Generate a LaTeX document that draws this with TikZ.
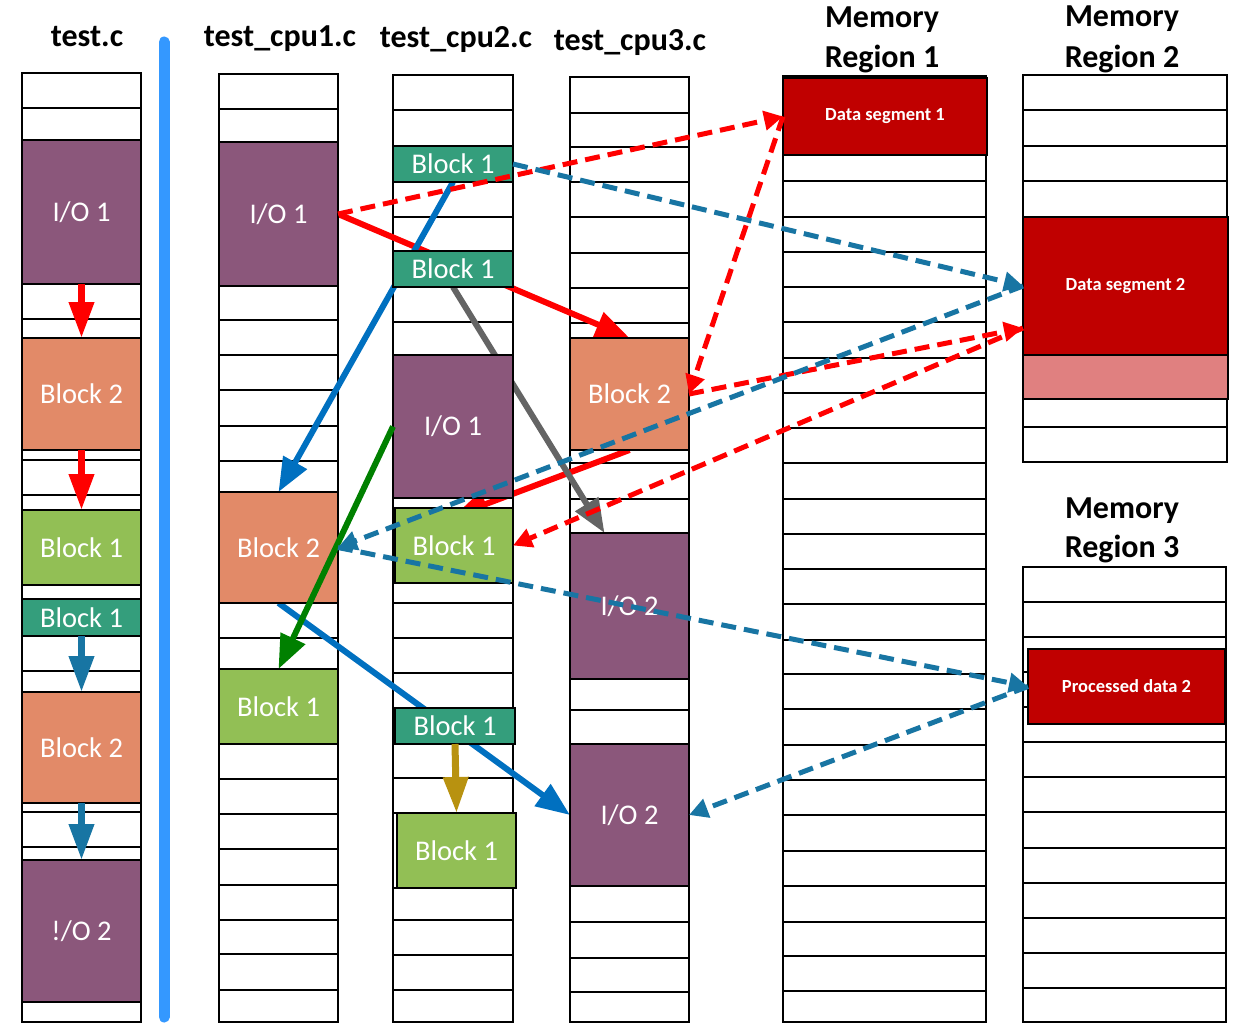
\documentclass[tikz,border=0pt]{standalone}
\usepackage{fontspec}
\setmainfont{Carlito}
\usetikzlibrary{arrows.meta,calc}
\definecolor{iopurple}{RGB}{139,87,123}
\definecolor{blkorange}{RGB}{226,138,104}
\definecolor{blkgreen}{RGB}{146,191,85}
\definecolor{blkteal}{RGB}{52,158,124}
\definecolor{segred}{RGB}{192,0,0}
\definecolor{segpink}{RGB}{224,128,128}
\definecolor{arrred}{RGB}{255,0,0}
\definecolor{arrblue}{RGB}{0,112,192}
\definecolor{dashblue}{RGB}{24,117,163}
\definecolor{arrgray}{RGB}{100,100,100}
\definecolor{arrgreen}{RGB}{0,128,0}
\definecolor{arrgold}{RGB}{184,146,16}
\definecolor{barblue}{RGB}{52,152,255}
\pgfdeclarelayer{cells}
\pgfdeclarelayer{behind}
\pgfsetlayers{cells,behind,main}
\newcommand{\seglbl}{\fontsize{18.5}{20}\selectfont\bfseries}
\tikzset{
  cell/.style={draw=black,line width=2.2pt},
  blk/.style={draw=black,line width=2pt,inner sep=0pt,outer sep=0pt,text=white,font=\fontsize{28.5}{31}\selectfont},
  ttl/.style={font=\fontsize{32}{34}\selectfont\bfseries,anchor=base,inner sep=0pt},
  solidarr/.style={line width=6pt,-{Triangle[length=34pt,width=26pt]}},
  vertarr/.style={line width=7pt,-{Triangle[length=36pt,width=24pt]}},
  dasharr/.style={line width=5pt,dash pattern=on 15pt off 8pt,-{Triangle[length=19pt,width=19pt]}}
}
\newcommand{\memcol}[5]{%
  \draw[cell,fill=white] (#1,#3) rectangle (#2,#4);
  \foreach \yy in {#5} {\draw[cell] (#1,\yy) -- (#2,\yy);}
}
\newcommand{\blk}[7]{%
  \node[blk,fill=#6,minimum width={(#4)-(#2)},minimum height={(#5)-(#3)}] (#1) at ({((#2)+(#4))/2},{((#3)+(#5))/2}) {#7};
}
\begin{document}
\begin{tikzpicture}[x=1pt,y=-1pt]
\useasboundingbox (0,0) rectangle (1235,1025);

% ---------- cells ----------
\begin{pgfonlayer}{cells}
\fill[white] (0,0) rectangle (1235,1025);
\memcol{22}{141}{73}{1022}{108,140,284,319,338,450,460,495,510,585,599,636,671,692,803,812,847,860,1002}
\memcol{219}{338}{74}{1022}{109,142,286,320,355,390,426,461,492,603,638,669,744,779,814,849,885,920,954,990}
\memcol{393}{513}{75}{1022}{110,146,182,217,251,287,322,355,498,508,583,603,638,673,708,744,778,813,888,920,955,990}
\memcol{570}{689}{77}{1022}{113,147,182,217,253,288,323,338,450,463,499,533,679,710,744,886,922,958,992}
\memcol{783}{986}{76}{1022}{155,181,217,252,287,322,358,393,428,463,499,534,569,604,640,674,709,745,780,815,851,886,922,956,991}
\memcol{1023}{1227}{75}{462}{110,146,181,217,355,399,427}
\memcol{1023}{1226}{567}{1022}{602,637,672,707,742,777,812,848,883,918,953,988}
\draw[barblue,line width=11pt,line cap=round] (164,42) -- (164,1017);
\end{pgfonlayer}

% ---------- titles ----------
\node[ttl] (tt0) at (87,47) {test.c};
\node[ttl] (tt1) at (280,47) {test\_cpu1.c};
\node[ttl] (tt2) at (456,48) {test\_cpu2.c};
\node[ttl] (tt3) at (630,51) {test\_cpu3.c};
\node[ttl] (tm1a) at (882,28) {Memory};
\node[ttl] (tm1b) at (882,68) {Region 1};
\node[ttl] (tm2a) at (1122,27) {Memory};
\node[ttl] (tm2b) at (1122,67) {Region 2};
\node[ttl] (tm3a) at (1122,518) {Memory};
\node[ttl] (tm3b) at (1122,557) {Region 3};

% ---------- blocks ----------
\blk{t_io1}{22}{140}{141}{284}{iopurple}{I/O 1}
\blk{t_b2}{22}{338}{141}{450}{blkorange}{Block 2}
\blk{t_b1}{22}{510}{141}{585}{blkgreen}{Block 1}
\blk{t_b1t}{22}{599}{141}{636}{blkteal}{Block 1}
\blk{t_b2b}{22}{692}{141}{803}{blkorange}{Block 2}
\blk{t_io2}{22}{860}{141}{1002}{iopurple}{!/O 2}

\blk{c1io1}{219}{142}{338}{286}{iopurple}{I/O 1}
\blk{c1b2}{219}{492}{338}{603}{blkorange}{Block 2}
\blk{c1b1}{219}{669}{338}{744}{blkgreen}{Block 1}

\blk{c2b1a}{393}{146}{513}{182}{blkteal}{Block 1}
\blk{c2b1b}{393}{251}{513}{287}{blkteal}{Block 1}
\blk{c2io1}{393}{355}{513}{498}{iopurple}{I/O 1}
\blk{c2b1c}{395}{508}{513}{583}{blkgreen}{Block 1}
\blk{c2b1d}{395}{708}{515}{744}{blkteal}{Block 1}
\blk{c2b1e}{397}{813}{516}{888}{blkgreen}{Block 1}

\blk{c3b2}{570}{338}{689}{450}{blkorange}{Block 2}
\blk{c3io2a}{570}{533}{689}{679}{iopurple}{I/O 2}
\blk{c3io2b}{570}{744}{689}{886}{iopurple}{I/O 2}

\blk{ds1}{783}{78}{987}{155}{segred}{\seglbl Data segment 1}
\blk{ds2}{1023}{217}{1228}{355}{segred}{\seglbl Data segment 2}
\blk{ds2b}{1023}{355}{1228}{399}{segpink}{}
\blk{pd2}{1028}{649}{1225}{724}{segred}{\seglbl Processed data 2}

% ---------- arrows hidden behind blocks ----------
\begin{pgfonlayer}{behind}
\draw[solidarr,arrred] (c1io1.east) -- (c3b2.north);
\draw[solidarr,arrred] (c3b2.south) -- ($(c2b1c.north)+(0,8)$);
\draw[solidarr,arrgray] (c2b1b.south) -- ($(c3io2a.north)+(-25,0)$);
\draw[solidarr,arrblue] (c2b1a.south) -- (c1b2.north);
\draw[solidarr,arrblue] (c1b2.south) -- (c3io2b.west);
\end{pgfonlayer}

% ---------- arrows on top ----------
\draw[vertarr,arrred] (t_io1.south) -- (t_b2.north);
\draw[vertarr,arrred] (t_b2.south) -- (t_b1.north);
\draw[vertarr,dashblue] (t_b1t.south) -- (t_b2b.north);
\draw[vertarr,dashblue] (t_b2b.south) -- (t_io2.north);

\draw[solidarr,arrgreen] (c2io1.west) -- (c1b1.north);
\draw[vertarr,arrgold] (c2b1d.south) -- (c2b1e.north);

\draw[dasharr,arrred] (c1io1.east) -- (ds1.west);
\draw[dasharr,arrred] (ds1.west) -- (c3b2.east);
\draw[dasharr,arrred] (c3b2.east) -- ($(ds2.west)+(0,42)$);
\draw[dasharr,arrred] ($(ds2.west)+(0,42)$) -- (c2b1c.east);

\draw[dasharr,dashblue] (c2b1a.east) -- (ds2.west);
\draw[dasharr,dashblue] (ds2.west) -- (c1b2.east);
\draw[dasharr,dashblue] (c1b2.east) -- (pd2.west);
\draw[dasharr,dashblue] (pd2.west) -- (c3io2b.east);
\end{tikzpicture}
\end{document}
